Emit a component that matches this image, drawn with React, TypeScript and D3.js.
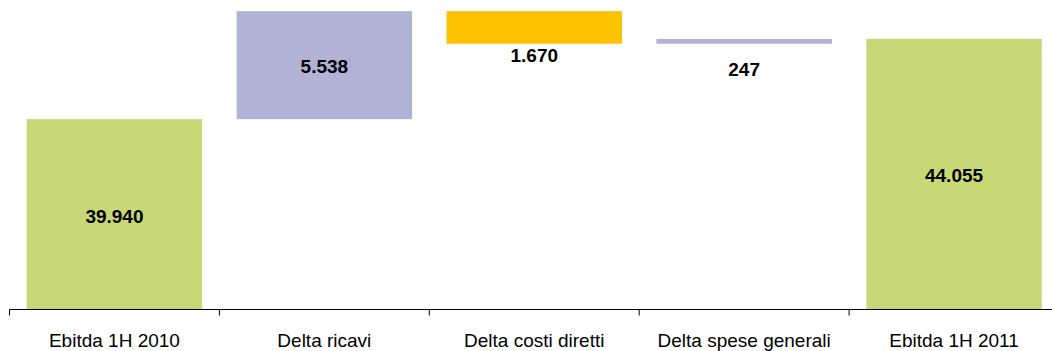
import React from "react";
import * as d3 from "d3";

// Waterfall: opening EBITDA, three deltas, closing EBITDA
const categories = ["Ebitda 1H 2010", "Delta ricavi", "Delta costi diretti", "Delta spese generali", "Ebitda 1H 2011"];
const kinds = ["total", "delta", "delta", "delta", "total"];
const values = [39940, 5538, -1670, 247, 44055];
const colors = ["#c8d877", "#b2b2d6", "#fdc300", "#b2b2d6", "#c8d877"];

const W = 1052;
const H = 351;

const itFormat = d3.formatLocale({
  decimal: ",",
  thousands: ".",
  grouping: [3],
  currency: ["", " €"],
}).format(",d");

type Step = { cat: string; lo: number; hi: number; value: number; color: string };

function buildSteps(): Step[] {
  let running = 0;
  return categories.map((cat, i) => {
    const v = values[i];
    let lo: number, hi: number;
    if (kinds[i] === "total") {
      lo = yMin;
      hi = v;
      running = v;
    } else {
      const next = running + v;
      lo = Math.min(running, next);
      hi = Math.max(running, next);
      running = next;
    }
    return { cat, lo, hi, value: v, color: colors[i] };
  });
}

// value axis is broken: it starts well above zero
const yMin = 30150;
const yMax = 46050;

export default function App() {
  const axisY = 309.5;
  const x = d3
    .scaleBand<string>()
    .domain(categories)
    .range([9.5, 1059])
    .paddingInner(0.164)
    .paddingOuter(0.082);
  const y = d3.scaleLinear().domain([yMin, yMax]).range([310, 0]);
  const steps = buildSteps();
  const bw = x.bandwidth();
  const tickXs = categories.map((c) => (x(c) as number) - (x.step() * x.paddingInner()) / 2);
  tickXs.push((x(categories[categories.length - 1]) as number) + bw + (x.step() * x.paddingInner()) / 2);

  return (
    <svg
      width={W}
      height={H}
      style={{ position: "absolute", left: 0, top: 0, fontFamily: "'Liberation Sans', Arial, sans-serif" }}
    >
      <rect width={W} height={H} fill="#ffffff" />
      {steps.map((s) => {
        const x0 = x(s.cat) as number;
        const yTop = y(s.hi);
        const yBot = y(s.lo);
        const h = yBot - yTop;
        const cy = (yTop + yBot) / 2;
        const labelY = h < 40 ? cy + 28 : cy + 1.5;
        return (
          <g key={s.cat}>
            <rect x={x0} y={yTop} width={bw} height={h} fill={s.color} />
            <text
              x={x0 + bw / 2}
              y={labelY}
              textAnchor="middle"
              dominantBaseline="central"
              fontSize={19}
              fontWeight="bold"
              fill="#000"
            >
              {itFormat(Math.abs(s.value))}
            </text>
          </g>
        );
      })}
      <line x1={9.5} x2={W} y1={axisY} y2={axisY} stroke="#000" strokeWidth={1} />
      {tickXs.map((tx, i) => (
        <line key={i} x1={tx} x2={tx} y1={axisY} y2={axisY + 6} stroke="#000" strokeWidth={1} />
      ))}
      {categories.map((c) => (
        <text
          key={c}
          x={(x(c) as number) + bw / 2}
          y={346.5}
          textAnchor="middle"
          fontSize={19}
          fill="#000"
        >
          {c}
        </text>
      ))}
    </svg>
  );
}
